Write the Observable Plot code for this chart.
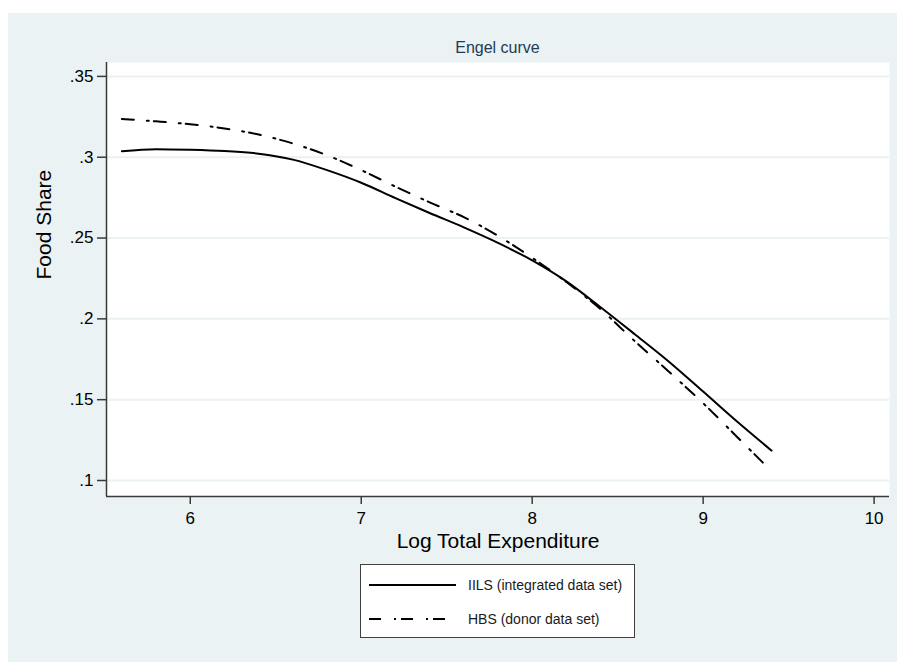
<!DOCTYPE html>
<html>
<head>
<meta charset="utf-8">
<script src="https://cdn.jsdelivr.net/npm/d3@7"></script>
<script src="https://cdn.jsdelivr.net/npm/@observablehq/plot@0.6"></script>
<style>
  body { margin: 0; background: #fff; font-family: "Liberation Sans", Arial, sans-serif; }
  #wrap { position: relative; width: 897px; height: 662px; overflow: hidden; background: #fff; }
  #bg { position: absolute; left: 8px; top: 13px; right: 0; bottom: 0; background: #EAF2F3; }
  #title { position: absolute; left: 106px; width: 783px; top: 40px; text-align: center;
           font-size: 16px; line-height: 16px; color: #243a55; }
  #chart { position: absolute; left: 0; top: 55px; }
  #legend { position: absolute; left: 360px; top: 564px; width: 273px; height: 72px;
            background: #fff; border: 1px solid #404040; }
  .key { position: absolute; left: 8px; }
  .lab { position: absolute; left: 107px; font-size: 14px; line-height: 20px; color: #1a1a1a; white-space: nowrap; }
</style>
</head>
<body>
<div id="wrap">
  <div id="bg"></div>
  <div id="title"></div>
  <div id="chart"></div>
  <div id="legend"></div>
</div>
<script>
// ---- data ----
const titleText = "Engel curve";
const xLabel = "Log Total Expenditure";
const yLabel = "Food Share";
const seriesNames = ["IILS (integrated data set)", "HBS (donor data set)"];

const iilsLogExp = [5.6, 5.8, 6.0, 6.2, 6.4, 6.6, 6.8, 7.0, 7.2, 7.4, 7.6, 7.8, 8.0, 8.2, 8.4, 8.6, 8.8, 9.0, 9.2, 9.4];
const iilsShare  = [0.3037, 0.3050, 0.3046, 0.3038, 0.3022, 0.2985, 0.2920, 0.2842, 0.2747, 0.2655, 0.2566, 0.2470, 0.2362, 0.2232, 0.2072, 0.1905, 0.1735, 0.1550, 0.1363, 0.1185];

const hbsLogExp = [5.6, 5.8, 6.0, 6.2, 6.4, 6.6, 6.8, 7.0, 7.2, 7.4, 7.6, 7.8, 8.0, 8.2, 8.4, 8.6, 8.8, 9.0, 9.2, 9.37];
const hbsShare  = [0.3237, 0.3222, 0.3204, 0.3178, 0.3140, 0.3085, 0.3012, 0.2920, 0.2818, 0.2721, 0.2629, 0.2514, 0.2378, 0.2228, 0.2060, 0.1862, 0.1673, 0.1478, 0.1268, 0.1089];

const xTicks = [6, 7, 8, 9, 10];
const xTickLabels = ["6", "7", "8", "9", "10"];
const yTicks = [0.1, 0.15, 0.2, 0.25, 0.3, 0.35];
const yTickLabels = [".1", ".15", ".2", ".25", ".3", ".35"];
const xDomain = [5.51, 10.09];
const yDomain = [0.0901, 0.3586];

// ---- build ----
const iils = iilsLogExp.map((x, i) => ({x, y: iilsShare[i]}));
const hbs = hbsLogExp.map((x, i) => ({x, y: hbsShare[i]}));
const dash = "12,13,2,5";
const axisColor = "#3a3a3a";

document.getElementById("title").textContent = titleText;

const chart = Plot.plot({
  width: 897,
  height: 501,
  marginTop: 7,
  marginBottom: 60,
  marginLeft: 106,
  marginRight: 8,
  style: {background: "transparent", fontFamily: "Liberation Sans, Arial, sans-serif", color: "#000", overflow: "visible"},
  x: {domain: xDomain},
  y: {domain: yDomain},
  marks: [
    Plot.frame({fill: "#fff", stroke: null}),
    Plot.gridY(yTicks, {stroke: "#EAF2F3", strokeOpacity: 1, strokeWidth: 2}),
    Plot.line(iils, {x: "x", y: "y", stroke: "#000", strokeWidth: 2, curve: "monotone-x"}),
    Plot.line(hbs, {x: "x", y: "y", stroke: "#000", strokeWidth: 2, curve: "monotone-x", strokeDasharray: dash}),
    Plot.ruleX([xDomain[0]], {stroke: axisColor, strokeWidth: 1.5}),
    Plot.ruleY([yDomain[0]], {stroke: axisColor, strokeWidth: 1.5}),
    Plot.axisX(xTicks, {tickSize: 8, tickPadding: 7, fontSize: 17, stroke: axisColor, strokeWidth: 1.5, fill: "#000",
                        tickFormat: d => xTickLabels[xTicks.indexOf(d)], label: null}),
    Plot.axisY(yTicks, {tickSize: 9, tickPadding: 4, fontSize: 17, stroke: axisColor, strokeWidth: 1.5, fill: "#000",
                        tickFormat: d => yTickLabels[yTicks.indexOf(d)], label: null}),
    Plot.text([xLabel], {text: d => d, frameAnchor: "bottom", lineAnchor: "bottom", dy: 51, fontSize: 21, fill: "#000"}),
    Plot.text([yLabel], {text: d => d, frameAnchor: "left", rotate: -90, lineAnchor: "top", dx: -70, fontSize: 21, fill: "#000"})
  ]
});
document.getElementById("chart").appendChild(chart);

// ---- legend ----
const legend = document.getElementById("legend");
const rows = [{name: seriesNames[0], dash: null, cy: 20}, {name: seriesNames[1], dash: dash, cy: 54}];
for (const r of rows) {
  const svg = d3.create("svg").attr("class", "key").attr("width", 90).attr("height", 10)
    .style("top", (r.cy - 5) + "px");
  svg.append("line").attr("x1", 0).attr("x2", r.dash ? 78 : 87).attr("y1", 5).attr("y2", 5)
    .attr("stroke", "#000").attr("stroke-width", 2).attr("stroke-dasharray", r.dash);
  legend.appendChild(svg.node());
  const t = document.createElement("div");
  t.className = "lab";
  t.style.top = (r.cy - 10) + "px";
  t.textContent = r.name;
  legend.appendChild(t);
}
</script>
</body>
</html>
